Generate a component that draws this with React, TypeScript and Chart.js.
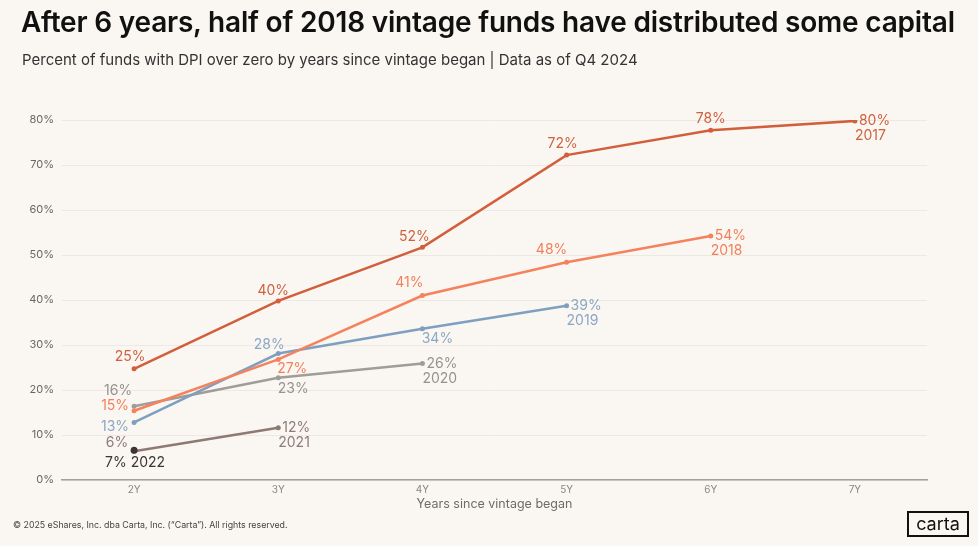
import { useEffect, useRef } from "react"
import { Chart, registerables } from "chart.js"

Chart.register(...registerables)

const categories = ["2Y", "3Y", "4Y", "5Y", "6Y", "7Y"]
const vintages = ["2017", "2018", "2019", "2020", "2021", "2022"]
const v2017 = [24.7, 39.8, 51.7, 72.2, 77.7, 79.8]
const v2018 = [15.4, 26.8, 41.0, 48.4, 54.2]
const v2019 = [12.8, 28.1, 33.6, 38.7]
const v2020 = [16.4, 22.7, 25.9]
const v2021 = [6.4, 11.6]
const v2022 = [6.6]
const yTicks = [0, 10, 20, 30, 40, 50, 60, 70, 80]

const lineColors = ["#d25e3b", "#f5825d", "#7f9fc0", "#a09c99", "#8e7a72", "#3f3633"]
const textColors = ["#d0603e", "#f27f5b", "#8ba7c4", "#959290", "#8e7d76", "#3b3532"]

// label offsets from each point: [dx, dy, align]; "end" = value right, year below; "inline" = "7% 2022" below
type Spot = [number, number, CanvasTextAlign] | "end" | "inline"
const labelSpots: Spot[][] = [
  [[-4, -12, "center"], [-5, -10, "center"], [-8, -11, "center"], [-4, -11, "center"], [0, -12, "center"], "end"],
  [[-5, -5, "right"], [14, 9, "center"], [-13, -13, "center"], [-15, -12, "center"], "end"],
  [[-5, 4, "right"], [-9, -9, "center"], [15, 10, "center"], "end"],
  [[-16, -15, "center"], [15, 11, "center"], "end"],
  [[-17, -8, "center"], "end"],
  ["inline"],
]

const FONT = "Inter, 'Noto Sans', sans-serif"

const pointLabels = {
  id: "pointLabels",
  afterDatasetsDraw(chart: Chart) {
    const ctx = chart.ctx
    ctx.save()
    ctx.font = `400 14px ${FONT}`
    ctx.textBaseline = "middle"
    chart.data.datasets.forEach((ds, di) => {
      const meta = chart.getDatasetMeta(di)
      ctx.fillStyle = textColors[di]
      meta.data.forEach((pt, i) => {
        const val = `${Math.round(ds.data[i] as number)}%`
        const spot = labelSpots[di][i]
        if (spot === "end") {
          ctx.textAlign = "left"
          ctx.fillText(val, pt.x + 4, pt.y)
          ctx.fillText(vintages[di], pt.x, pt.y + 15)
        } else if (spot === "inline") {
          ctx.textAlign = "center"
          ctx.fillText(`${val} ${vintages[di]}`, pt.x + 1, pt.y + 12)
        } else {
          ctx.textAlign = spot[2]
          ctx.fillText(val, pt.x + spot[0], pt.y + spot[1])
        }
      })
    })
    ctx.restore()
  },
}

export default function App() {
  const chartRef = useRef<HTMLCanvasElement>(null)
  const chartInstance = useRef<Chart | null>(null)

  useEffect(() => {
    document.body.style.margin = "0"
    if (!chartRef.current) return
    if (chartInstance.current) chartInstance.current.destroy()
    const ctx = chartRef.current.getContext("2d")
    if (!ctx) return

    const series = [v2017, v2018, v2019, v2020, v2021, v2022]

    chartInstance.current = new Chart(ctx, {
      type: "line",
      data: {
        labels: categories,
        datasets: series.map((d, i) => ({
          label: vintages[i],
          data: d,
          order: i === 5 ? -1 : i,
          borderColor: lineColors[i],
          backgroundColor: lineColors[i],
          borderWidth: 2.5,
          pointRadius: i === 5 ? 3.5 : 2.5,
          pointHoverRadius: 3,
          pointBorderWidth: 0,
          tension: 0,
          fill: false,
        })),
      },
      options: {
        responsive: false,
        animation: false,
        layout: { padding: { left: 0, top: 120, right: 51, bottom: 34 } },
        plugins: {
          legend: { display: false },
          tooltip: { enabled: false },
        },
        scales: {
          x: {
            offset: true,
            grid: { display: false, drawTicks: false },
            border: { display: true, color: "#a39f9a", width: 1.5 },
            ticks: { color: "#8a8682", font: { family: FONT, size: 10 }, padding: 4 },
            title: {
              display: true,
              text: "Years since vintage began",
              color: "#6f6b67",
              font: { family: FONT, size: 12.5 },
              padding: { top: 2, bottom: 0 },
            },
            afterFit: (s) => {
              s.height = 32
            },
          },
          y: {
            min: 0,
            max: 80,
            afterBuildTicks: (s) => {
              s.ticks = yTicks.map((v) => ({ value: v }))
            },
            grid: { color: "#ede8e2", lineWidth: 1, drawTicks: false },
            border: { display: false },
            ticks: {
              color: "#6a6662",
              font: { family: FONT, size: 11 },
              padding: 8,
              callback: (v) => `${v}%`,
            },
            afterFit: (s) => {
              s.width = 62
            },
          },
        },
      },
      plugins: [pointLabels],
    })

    return () => {
      if (chartInstance.current) chartInstance.current.destroy()
    }
  }, [])

  return (
    <div
      style={{
        position: "relative",
        width: 978,
        height: 546,
        background: "#faf7f2",
        fontFamily: FONT,
        overflow: "hidden",
      }}
    >
      <canvas ref={chartRef} width={978} height={546} style={{ position: "absolute", left: 0, top: 0 }} />
      <div
        style={{
          position: "absolute",
          left: 21,
          top: 5,
          fontSize: 28,
          fontWeight: 600,
          color: "#111",
          letterSpacing: -0.2,
          whiteSpace: "nowrap",
        }}
      >
        After 6 years, half of 2018 vintage funds have distributed some capital
      </div>
      <div
        style={{
          position: "absolute",
          left: 22,
          top: 50,
          fontSize: 15,
          color: "#333",
          whiteSpace: "nowrap",
        }}
      >
        Percent of funds with DPI over zero by years since vintage began | Data as of Q4 2024
      </div>
      <div
        style={{
          position: "absolute",
          left: 13,
          top: 519,
          fontSize: 8.8,
          color: "#444",
          whiteSpace: "nowrap",
        }}
      >
        © 2025 eShares, Inc. dba Carta, Inc. (“Carta”). All rights reserved.
      </div>
      <div
        style={{
          position: "absolute",
          left: 907,
          top: 511,
          width: 58,
          height: 22,
          border: "2px solid #111",
          fontSize: 18,
          lineHeight: "21px",
          textAlign: "center",
          color: "#111",
        }}
      >
        carta
      </div>
    </div>
  )
}
